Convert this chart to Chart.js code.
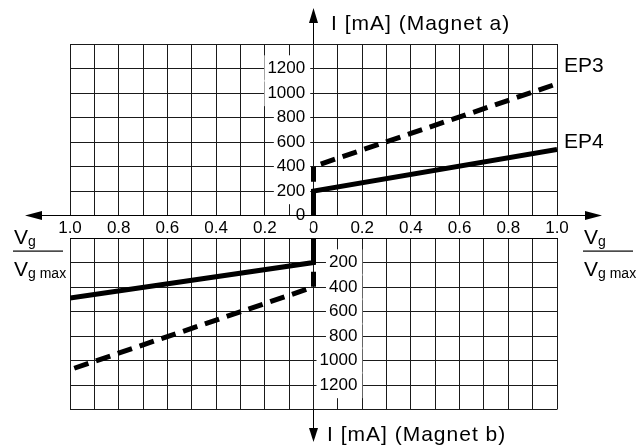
<!DOCTYPE html>
<html>
<head>
<meta charset="utf-8">
<script src="https://cdn.jsdelivr.net/npm/chart.js@4.4.1/dist/chart.umd.min.js"></script>
<style>
  html, body { margin: 0; padding: 0; background: #fff; }
  #wrap { position: relative; width: 640px; height: 448px; }
  #wrap canvas { position: absolute; left: 0; top: 0; }
</style>
</head>
<body>
<div id="wrap">
  <canvas id="magnetA" width="640" height="448"></canvas>
  <canvas id="magnetB" width="640" height="448"></canvas>
</div>
<script>
// tick labels (Vg / Vg max and current in mA)
const vgTickValues = [-1.0, -0.8, -0.6, -0.4, -0.2, 0, 0.2, 0.4, 0.6, 0.8, 1.0];
const vgTickLabels = ["1.0", "0.8", "0.6", "0.4", "0.2", "0", "0.2", "0.4", "0.6", "0.8", "1.0"];
const mATickValuesA = [0, 200, 400, 600, 800, 1000, 1200];
const mATickLabelsA = ["0", "200", "400", "600", "800", "1000", "1200"];
const mATickValuesB = [200, 400, 600, 800, 1000, 1200];
const mATickLabelsB = ["200", "400", "600", "800", "1000", "1200"];

// Magnet a (upper half)
const vgA = [0, 0, 1];
const ep4A = [0, 200, 540];
const ep3A = [275, 400, 1075];
// Magnet b (lower half)
const vgB = [0, 0, -1];
const ep4B = [0, 200, 490];
const ep3B = [275, 400, 1075];

const FONT = '"Liberation Sans", Arial, Helvetica, sans-serif';
Chart.defaults.font.family = FONT;
Chart.defaults.color = "#000";

function pick(values, labels) {
  return function (v) {
    const i = values.findIndex((t) => Math.abs(t - v) < 1e-6);
    return i < 0 ? "" : labels[i];
  };
}
const vgLabel = pick(vgTickValues, vgTickLabels);
const mALabelA = pick(mATickValuesA, mATickLabelsA);
const mALabelB = pick(mATickValuesB, mATickLabelsB);

function points(xs, ys) {
  return xs.map((x, i) => ({ x: x, y: ys[i] }));
}

function lineSet(label, data, dashed) {
  return {
    label: label,
    data: data,
    showLine: true,
    borderColor: "#000",
    borderWidth: 5,
    borderDash: dashed ? [15, 8] : [],
    borderCapStyle: "butt",
    borderJoinStyle: "miter",
    pointRadius: 0,
    tension: 0,
  };
}

function crisp(p) {
  return Math.round(p - 0.5) + 0.5;
}

function fraction(ctx, x) {
  ctx.font = "21px " + FONT;
  const wV = ctx.measureText("V").width;
  ctx.fillText("V", x + 1, 244);
  ctx.fillText("V", x + 1, 276);
  ctx.font = "14px " + FONT;
  ctx.fillText("g", x + 1 + wV, 246);
  ctx.fillText("g max", x + 1 + wV, 278);
  ctx.fillRect(x, 250.5, 50, 1.2);
}

const axisDecor = {
  id: "axisDecor",
  afterDraw(chart, args, opts) {
    const ctx = chart.ctx;
    const x0 = crisp(chart.scales.x.getPixelForValue(0));
    const area = chart.chartArea;
    ctx.save();
    ctx.strokeStyle = "#000";
    ctx.fillStyle = "#000";
    ctx.lineWidth = 1;
    ctx.textBaseline = "alphabetic";
    ctx.textAlign = "left";
    if (opts.half === "a") {
      const y = crisp(area.bottom);
      ctx.beginPath();
      ctx.moveTo(40, y);
      ctx.lineTo(590, y);
      ctx.moveTo(x0, 20);
      ctx.lineTo(x0, area.top);
      ctx.stroke();
      ctx.beginPath();
      ctx.moveTo(25, y);
      ctx.lineTo(42, y - 4.5);
      ctx.lineTo(42, y + 4.5);
      ctx.closePath();
      ctx.moveTo(602, y);
      ctx.lineTo(585, y - 4.5);
      ctx.lineTo(585, y + 4.5);
      ctx.closePath();
      ctx.moveTo(x0, 8);
      ctx.lineTo(x0 - 4.5, 23);
      ctx.lineTo(x0 + 4.5, 23);
      ctx.closePath();
      ctx.fill();
      ctx.font = "21px " + FONT;
      ctx.letterSpacing = "1px";
      ctx.fillText("I [mA] (Magnet a)", 331, 30);
      ctx.letterSpacing = "0px";
      ctx.fillText("EP3", 564, 72);
      ctx.fillText("EP4", 564, 148);
      fraction(ctx, 13);
      fraction(ctx, 583);
    } else {
      ctx.beginPath();
      ctx.moveTo(x0, area.bottom);
      ctx.lineTo(x0, 430);
      ctx.stroke();
      ctx.beginPath();
      ctx.moveTo(x0, 442);
      ctx.lineTo(x0 - 4.5, 428);
      ctx.lineTo(x0 + 4.5, 428);
      ctx.closePath();
      ctx.fill();
      ctx.font = "21px " + FONT;
      ctx.letterSpacing = "1px";
      ctx.fillText("I [mA] (Magnet b)", 327, 441);
    }
    ctx.restore();
  },
};

const gridStyle = { color: "#1a1a1a", lineWidth: 1, drawTicks: false };

function makeChart(id, half) {
  const upper = half === "a";
  const vg = upper ? vgA : vgB;
  const yLabel = upper ? mALabelA : mALabelB;
  return new Chart(document.getElementById(id), {
    type: "scatter",
    data: {
      datasets: [
        lineSet("EP3", points(vg, upper ? ep3A : ep3B), true),
        lineSet("EP4", points(vg, upper ? ep4A : ep4B), false),
      ],
    },
    options: {
      responsive: false,
      animation: false,
      layout: upper
        ? { padding: { left: 70, right: 83, top: 44, bottom: 210.5 } }
        : { padding: { left: 70, right: 83, top: 238, bottom: 38.5 } },
      plugins: {
        legend: { display: false },
        tooltip: { enabled: false },
        axisDecor: { half: half },
      },
      scales: {
        x: {
          type: "linear",
          position: upper ? "bottom" : "top",
          min: -1,
          max: 1,
          grid: gridStyle,
          border: { display: true, color: "#000", width: 1 },
          afterFit: (s) => {
            s.height = upper ? 22 : 0;
          },
          ticks: {
            display: upper,
            stepSize: 0.1,
            autoSkip: false,
            maxRotation: 0,
            padding: 2.5,
            z: 1,
            font: { size: 17 },
            callback: (v) => vgLabel(v),
            showLabelBackdrop: (c) => vgLabel(c.tick.value) !== "",
            backdropColor: "#fff",
            backdropPadding: 2,
          },
        },
        y: {
          type: "linear",
          // labels sit left of the zero line (a) or right of it (b)
          position: { x: upper ? -0.034 : 0.18 },
          reverse: !upper,
          min: 0,
          max: 1400,
          grid: gridStyle,
          border: { display: false },
          ticks: {
            stepSize: 200,
            autoSkip: false,
            z: 1,
            font: { size: 17 },
            callback: (v) => yLabel(v),
            showLabelBackdrop: (c) => yLabel(c.tick.value) !== "",
            backdropColor: "#fff",
            backdropPadding: { left: 3, right: 5, top: 3, bottom: 3 },
          },
        },
      },
    },
    plugins: [axisDecor],
  });
}

makeChart("magnetA", "a");
makeChart("magnetB", "b");
</script>
</body>
</html>
